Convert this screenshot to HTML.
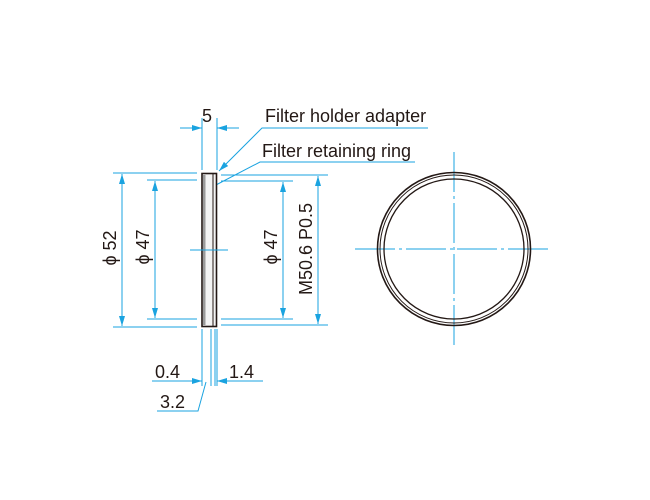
<!DOCTYPE html>
<html><head><meta charset="utf-8"><style>
html,body{margin:0;padding:0;background:#fff;}
svg{display:block;}
text{font-family:"Liberation Sans",Arial,sans-serif;fill:#231815;}
</style></head><body>
<svg width="650" height="500" viewBox="0 0 650 500" xmlns="http://www.w3.org/2000/svg">
<defs>
<marker id="a" viewBox="0 0 10 6" refX="10" refY="3" markerWidth="10" markerHeight="6" markerUnits="userSpaceOnUse" orient="auto"><path d="M0,0 L10,3 L0,6 z" fill="#1aa3e0"/></marker>
</defs>
<g stroke="#1aa3e0" stroke-width="1" fill="none">
<line x1="202" y1="118" x2="202" y2="170"/>
<line x1="217" y1="118" x2="217" y2="170"/>
<line x1="180" y1="128" x2="202" y2="128" marker-end="url(#a)"/>
<line x1="239" y1="128" x2="217" y2="128" marker-end="url(#a)"/>
<polyline points="428,128 262,128 219,171" marker-end="url(#a)"/>
<polyline points="415,162 260,162 214,186"/>
<line x1="113" y1="173" x2="197" y2="173"/>
<line x1="113" y1="327" x2="197" y2="327"/>
<line x1="147" y1="180" x2="197" y2="180"/>
<line x1="147" y1="319" x2="197" y2="319"/>
<line x1="221" y1="175" x2="328" y2="175"/>
<line x1="221" y1="325" x2="328" y2="325"/>
<line x1="221" y1="181" x2="293" y2="181"/>
<line x1="221" y1="319" x2="293" y2="319"/>
<line x1="122" y1="250" x2="122" y2="174" marker-end="url(#a)"/>
<line x1="122" y1="250" x2="122" y2="326" marker-end="url(#a)"/>
<line x1="155" y1="250" x2="155" y2="181" marker-end="url(#a)"/>
<line x1="155" y1="250" x2="155" y2="318" marker-end="url(#a)"/>
<line x1="283" y1="250" x2="283" y2="182" marker-end="url(#a)"/>
<line x1="283" y1="250" x2="283" y2="318" marker-end="url(#a)"/>
<line x1="318" y1="250" x2="318" y2="176" marker-end="url(#a)"/>
<line x1="318" y1="250" x2="318" y2="324" marker-end="url(#a)"/>
<line x1="190" y1="250" x2="228" y2="250"/>
<line x1="202" y1="329" x2="202" y2="386"/>
<line x1="211" y1="329" x2="211" y2="386"/>
<line x1="215" y1="329" x2="215" y2="386"/>
<line x1="217" y1="329" x2="217" y2="386"/>
<line x1="152" y1="381" x2="202" y2="381" marker-end="url(#a)"/>
<line x1="263" y1="381" x2="217" y2="381" marker-end="url(#a)"/>
<polyline points="157,411 198,411 206,382"/>
<line x1="355" y1="249" x2="550" y2="249" stroke-dasharray="40,4,3,4"/>
<line x1="454" y1="152" x2="454" y2="347" stroke-dasharray="40,4,3,4"/>
</g>
<rect x="202" y="173.5" width="14.5" height="153" fill="#f4f4f4" stroke="#231815" stroke-width="1.6"/>
<rect x="203" y="175" width="2.5" height="150" fill="#9a9a9a" stroke="none"/>
<line x1="213" y1="174" x2="213" y2="326" stroke="#231815" stroke-width="1"/>
<line x1="190" y1="250" x2="228" y2="250" stroke="#1aa3e0" stroke-width="1"/>
<g fill="none" stroke="#231815">
<circle cx="454" cy="249" r="76.5" stroke-width="1.6"/>
<circle cx="454" cy="249" r="74" stroke-width="1"/>
<circle cx="454" cy="249" r="70" stroke-width="1.3"/>
</g>
<g font-size="18">
<text x="202" y="122">5</text>
<text x="265" y="122">Filter holder adapter</text>
<text x="262" y="157">Filter retaining ring</text>
<text x="155" y="378">0.4</text>
<text x="229" y="378">1.4</text>
<text x="160" y="408">3.2</text>
<text transform="translate(116,248) rotate(-90)" text-anchor="middle">ϕ 52</text>
<text transform="translate(149,247) rotate(-90)" text-anchor="middle">ϕ 47</text>
<text transform="translate(277,247) rotate(-90)" text-anchor="middle">ϕ 47</text>
<text transform="translate(312,249) rotate(-90)" text-anchor="middle">M50.6 P0.5</text>
</g>
</svg>
</body></html>
